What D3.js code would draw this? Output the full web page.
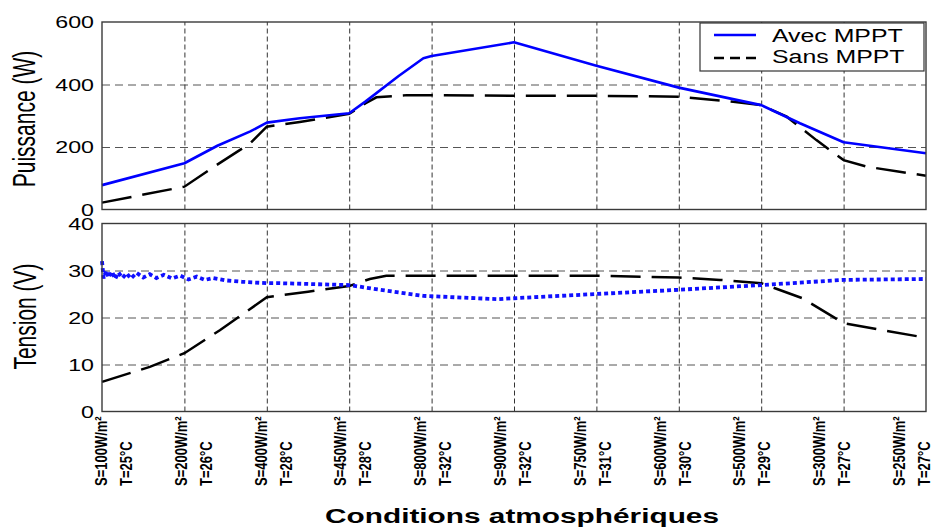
<!DOCTYPE html>
<html><head><meta charset="utf-8">
<script src="https://cdn.jsdelivr.net/npm/d3@7"></script>
<style>
body{margin:0;background:#fff}
svg{display:block}
text{font-family:"Liberation Sans",Arial,sans-serif;fill:#000}
</style>
</head><body>
<svg id="c" width="933" height="527"></svg>
<script>
// ---- data ----
const irradiance = ["S=100W/m²","S=200W/m²","S=400W/m²","S=450W/m²","S=800W/m²","S=900W/m²","S=750W/m²","S=600W/m²","S=500W/m²","S=300W/m²","S=250W/m²"];
const temperature = ["T=25°C","T=26°C","T=28°C","T=28°C","T=32°C","T=32°C","T=31°C","T=30°C","T=29°C","T=27°C","T=27°C"];
const seriesNames = ["Avec MPPT","Sans MPPT"];
const powerTicks = [0,200,400,600];
const voltTicks = [0,10,20,30,40];

// Puissance (W)
const pAvecX = [0,1,1.4,1.8,2,2.4,3,3.2,3.6,3.9,4,5,6,7,8,8.47,9,10];
const pAvecY = [78,148,204,250,278,292,308,346,427,484,491,535,460,390,334,276,215,180];
const pSansX = [0,1,1.39,1.8,2,2.4,3,3.2,3.33,3.7,4,5,6,7,7.66,8,8.31,8.67,9,9.28,9.68,10];
const pSansY = [22,73,142,212,265,280,306,340,359,366,366,364,364,361,345,334,297,222,158,137,121,108];

// Tension (V)
const vAvecX = [0,0.02,0.05,0.08,0.12,0.16,0.2,0.25,0.3,0.35,0.42,0.5,0.58,0.66,0.75,0.85,0.95,1.05,1.15,1.25,1.35,1.5,1.7,2,2.16,3,3.37,3.9,4.8,5,6,7,8,9,10];
const vAvecY = [32.0,28.3,30.0,28.5,29.8,28.2,29.6,28.4,29.4,28.3,29.5,28.5,29.2,28.4,29.1,28.3,28.9,28.1,28.7,28.0,28.4,27.9,27.6,27.3,27.3,26.9,25.9,24.6,23.9,24.1,25.0,25.9,26.9,28.0,28.2];
const vSansX = [0,0.58,1,1.43,2,2.5,3,3.25,3.45,4,5,6,7,7.5,8,8.5,9,9.5,10];
const vSansY = [6.3,9.5,12.4,17.3,24.3,25.5,26.7,28.2,28.9,28.9,28.9,28.9,28.5,28.0,27.3,24.1,18.8,17.2,15.7];

// ---- chart ----
const svg = d3.select("#c");
const L = 102, R = 926;
const x = d3.scaleLinear().domain([0,10]).range([L,R]);
const xl = d3.scaleLinear().domain([0,10]).range([L+12,R-14]);
const yP = d3.scaleLinear().domain([0,600]).range([209.5,22]);
const yV = d3.scaleLinear().domain([0,40]).range([411.5,223.5]);
const zip = (a,b)=>a.map((v,i)=>[v,b[i]]);

function panel(y, ticks){
  const [bot, top] = y.range();
  const g = svg.append("g");
  const hg = g.append("g").attr("transform",`translate(${L},0)`)
    .call(d3.axisLeft(y).tickValues(ticks.slice(1,-1)).tickSize(-(R-L)).tickFormat(""));
  hg.select(".domain").remove();
  hg.selectAll("line").attr("stroke","#555").attr("stroke-width",1).attr("stroke-dasharray","8,5");
  const vg = g.append("g").attr("transform",`translate(0,${bot})`)
    .call(d3.axisBottom(x).tickValues(d3.range(1,10)).tickSize(-(bot-top)).tickFormat(""));
  vg.select(".domain").remove();
  vg.selectAll("line").attr("stroke","#333").attr("stroke-width",1).attr("stroke-dasharray","5,3");
  const ya = g.append("g").attr("transform",`translate(${L},0)`)
    .call(d3.axisLeft(y).tickValues(ticks).tickSize(0).tickPadding(8));
  ya.select(".domain").remove();
  ya.selectAll("text").attr("x",0).attr("dy","0.36em")
    .attr("transform","translate(-8,0) scale(1.45,1)")
    .style("font-size","16px").style("font-family",'"Liberation Sans",Arial,sans-serif').attr("fill","#000");
  return g;
}
function frame(y){
  const [bot, top] = y.range();
  svg.append("rect").attr("x",L).attr("y",top).attr("width",R-L).attr("height",bot-top)
    .attr("fill","none").attr("stroke","#3a3a3a").attr("stroke-width",1.4);
}

panel(yP, powerTicks);
panel(yV, voltTicks);

const lineP = d3.line().x(d=>x(d[0])).y(d=>yP(d[1]));
const lineV = d3.line().x(d=>x(d[0])).y(d=>yV(d[1]));

svg.append("path").attr("d",lineP(zip(pSansX,pSansY))).attr("fill","none")
  .attr("stroke","#000").attr("stroke-width",2.5).attr("stroke-dasharray","30,11");
svg.append("path").attr("d",lineP(zip(pAvecX,pAvecY))).attr("fill","none")
  .attr("stroke","#0000ff").attr("stroke-width",2.6).attr("stroke-linejoin","round");

svg.append("path").attr("d",lineV(zip(vSansX,vSansY))).attr("fill","none")
  .attr("stroke","#000").attr("stroke-width",2.5).attr("stroke-dasharray","30,11");
svg.append("path").attr("d",lineV(zip(vAvecX,vAvecY))).attr("fill","none")
  .attr("stroke","#1010ff").attr("stroke-width",3.8).attr("stroke-dasharray","4,3");

frame(yP);
frame(yV);

// x category labels
const xlab = svg.append("g").style("font-size","13px").style("font-weight","bold");
irradiance.forEach((t,i)=>{
  xlab.append("text").attr("transform",`translate(${xl(i)-7},486) scale(1.25,1) rotate(-90)`).text(t);
  xlab.append("text").attr("transform",`translate(${xl(i)+18},486) scale(1.25,1) rotate(-90)`).text(temperature[i]);
});

// axis titles
svg.append("text").attr("transform","translate(35,119) scale(1.45,1) rotate(-90)")
  .attr("text-anchor","middle").style("font-size","21px").text("Puissance (W)");
svg.append("text").attr("transform","translate(36,316.5) scale(1.45,1) rotate(-90)")
  .attr("text-anchor","middle").style("font-size","21px").text("Tension (V)");
svg.append("text").attr("transform","translate(522,523) scale(1.42,1)")
  .attr("text-anchor","middle").style("font-size","21px").style("font-weight","bold")
  .text("Conditions atmosphériques");

// legend
const lg = svg.append("g");
lg.append("rect").attr("x",700).attr("y",23).attr("width",224).attr("height",48)
  .attr("fill","#fff").attr("stroke","#333").attr("stroke-width",1.2);
lg.append("line").attr("x1",714).attr("x2",756).attr("y1",35).attr("y2",35)
  .attr("stroke","#0000ff").attr("stroke-width",2.6);
lg.append("line").attr("x1",714).attr("x2",756).attr("y1",58).attr("y2",58)
  .attr("stroke","#000").attr("stroke-width",2.5).attr("stroke-dasharray","10,6");
lg.append("text").attr("transform","translate(772,41.5) scale(1.38,1)").style("font-size","18px").text(seriesNames[0]);
lg.append("text").attr("transform","translate(772,62.5) scale(1.38,1)").style("font-size","18px").text(seriesNames[1]);
</script>
</body></html>
